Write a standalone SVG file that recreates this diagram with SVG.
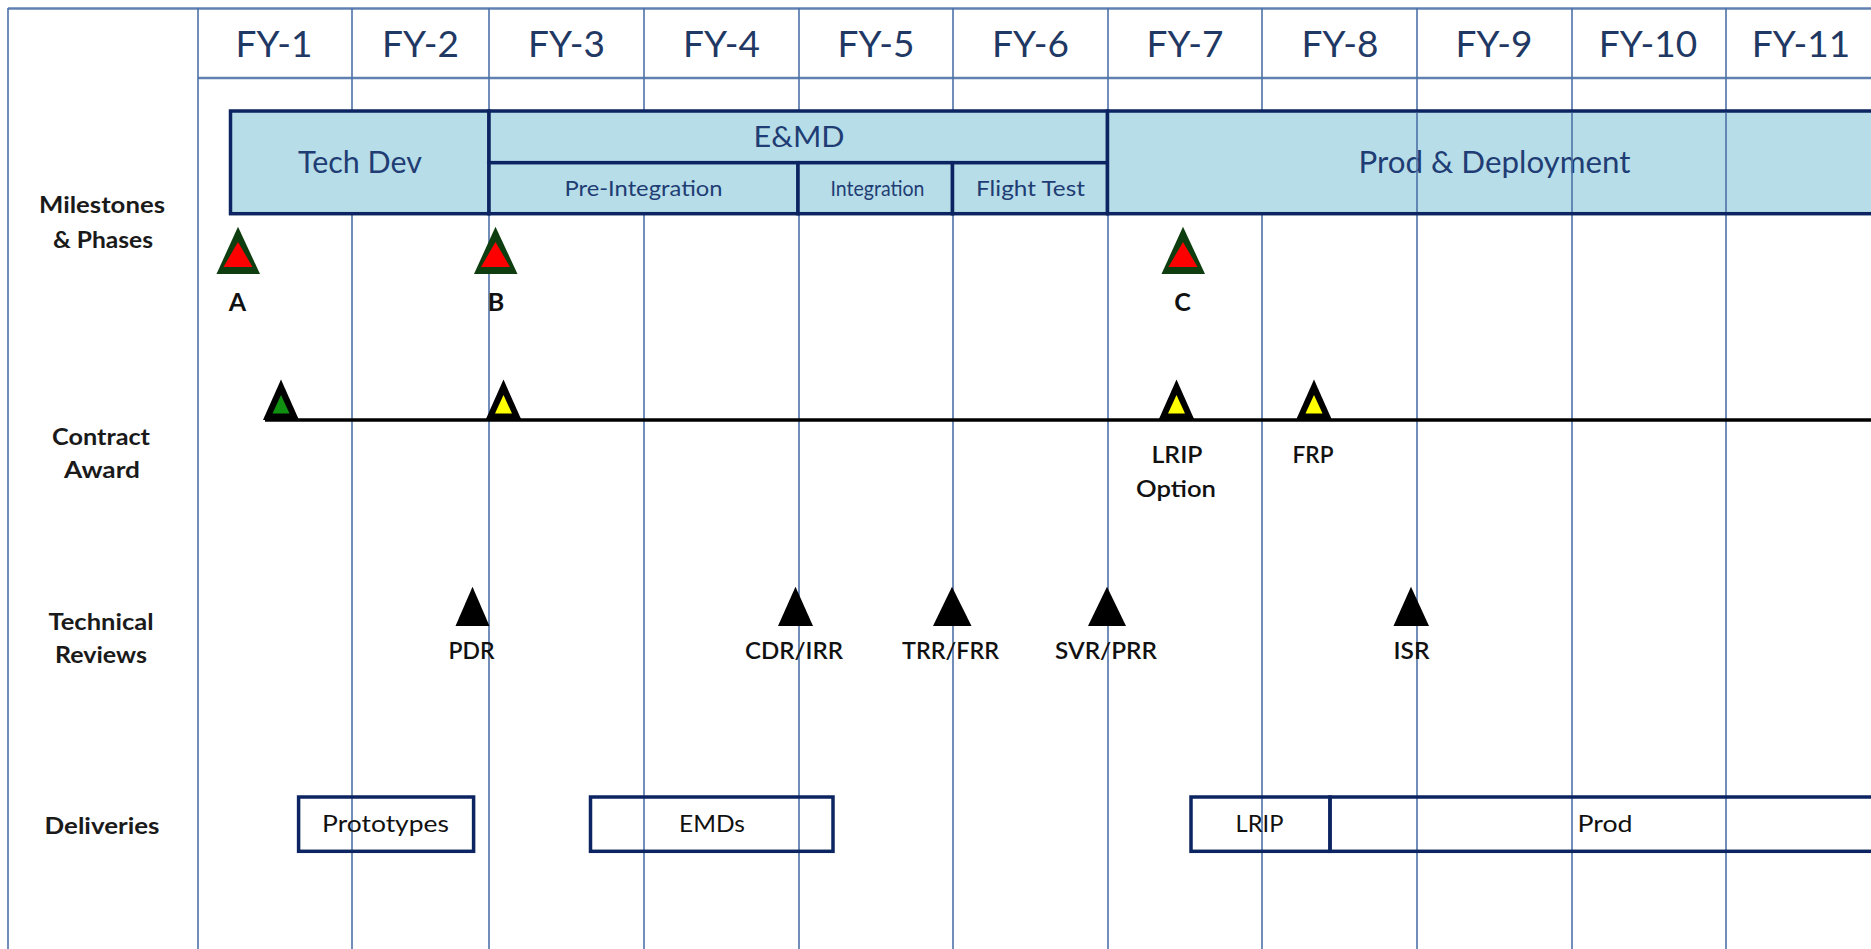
<svg xmlns="http://www.w3.org/2000/svg" width="1871" height="949" viewBox="0 0 1871 949">
<style>
  .grid { stroke: #4d72a8; stroke-width: 1.6; fill: none; }
  .hgrid { stroke: #5f80b0; stroke-width: 2.4; fill: none; }
  .fy { font-family: Lato, "Liberation Sans", sans-serif; font-size: 37px; fill: #1f3864; text-anchor: middle; }
  .phase { fill: #b7dde8; stroke: #0c2461; stroke-width: 3.5; }
  .ptxt { font-family: Lato, "Liberation Sans", sans-serif; fill: #1f3d74; text-anchor: middle; }
  .row { font-family: Lato, "Liberation Sans", sans-serif; font-size: 23px; font-weight: bold; fill: #1a1a1a; text-anchor: middle; }
  .lbl { font-family: Lato, "Liberation Sans", sans-serif; font-size: 22px; font-weight: 600; fill: #111; text-anchor: middle; }
  .lblb { font-family: Lato, "Liberation Sans", sans-serif; font-size: 25px; font-weight: bold; fill: #111; text-anchor: middle; }
  .mout { fill: #0e3e10; }
  .min { fill: #ff0000; }
  .cout { fill: #000; }
  .review { fill: #000; }
  .dbox { fill: none; stroke: #0c2461; stroke-width: 3.5; }
  .dtxt { font-family: Lato, "Liberation Sans", sans-serif; font-size: 23px; fill: #111; text-anchor: middle; }
</style>
<rect width="1871" height="949" fill="#ffffff"/>

<g id="grid">
  <line class="hgrid" x1="8" y1="8.5" x2="1871" y2="8.5"/>
  <line class="hgrid" x1="198" y1="78" x2="1871" y2="78"/>
  <line class="grid" x1="8" y1="8" x2="8" y2="949"/>
  <line class="grid" x1="198" y1="8" x2="198" y2="949"/>
  <line class="grid" x1="352" y1="8" x2="352" y2="949"/>
  <line class="grid" x1="489" y1="8" x2="489" y2="949"/>
  <line class="grid" x1="644" y1="8" x2="644" y2="949"/>
  <line class="grid" x1="799" y1="8" x2="799" y2="949"/>
  <line class="grid" x1="953" y1="8" x2="953" y2="949"/>
  <line class="grid" x1="1108" y1="8" x2="1108" y2="949"/>
  <line class="grid" x1="1262" y1="8" x2="1262" y2="949"/>
  <line class="grid" x1="1417" y1="8" x2="1417" y2="949"/>
  <line class="grid" x1="1572" y1="8" x2="1572" y2="949"/>
  <line class="grid" x1="1726" y1="8" x2="1726" y2="949"/>
</g>

<g id="header">
  <text class="fy" x="274" y="57">FY-1</text>
  <text class="fy" x="420.5" y="57">FY-2</text>
  <text class="fy" x="566.5" y="57">FY-3</text>
  <text class="fy" x="721.5" y="57">FY-4</text>
  <text class="fy" x="876" y="57">FY-5</text>
  <text class="fy" x="1030.5" y="57">FY-6</text>
  <text class="fy" x="1185" y="57">FY-7</text>
  <text class="fy" x="1340" y="57">FY-8</text>
  <text class="fy" x="1494" y="57">FY-9</text>
  <text class="fy" x="1648" y="57">FY-10</text>
  <text class="fy" x="1801" y="57">FY-11</text>
</g>

<g id="row-labels">
  <text class="row" x="102" y="213" textLength="126" lengthAdjust="spacingAndGlyphs">Milestones</text>
  <text class="row" x="103" y="248" textLength="100" lengthAdjust="spacingAndGlyphs">&amp; Phases</text>
  <text class="row" x="101" y="445" textLength="98" lengthAdjust="spacingAndGlyphs">Contract</text>
  <text class="row" x="102" y="478" textLength="76" lengthAdjust="spacingAndGlyphs">Award</text>
  <text class="row" x="101" y="629.5" textLength="105" lengthAdjust="spacingAndGlyphs">Technical</text>
  <text class="row" x="101" y="663" textLength="92" lengthAdjust="spacingAndGlyphs">Reviews</text>
  <text class="row" x="102" y="834" textLength="115" lengthAdjust="spacingAndGlyphs">Deliveries</text>
</g>

<g id="phase-tech-dev">
  <rect class="phase" x="230.5" y="111" width="258.5" height="102.7"/>
  <text class="ptxt" x="360" y="173" font-size="30" textLength="124" lengthAdjust="spacingAndGlyphs">Tech Dev</text>
</g>
<g id="phase-emd">
  <rect class="phase" x="489" y="111" width="618.5" height="51.7"/>
  <text class="ptxt" x="799" y="147" font-size="29" textLength="91" lengthAdjust="spacingAndGlyphs">E&amp;MD</text>
</g>
<g id="phase-pre-integration">
  <rect class="phase" x="489" y="162.7" width="309" height="51"/>
  <text class="ptxt" x="643.5" y="196" font-size="22" textLength="158" lengthAdjust="spacingAndGlyphs">Pre-Integration</text>
</g>
<g id="phase-integration">
  <rect class="phase" x="798" y="162.7" width="154.5" height="51"/>
  <text class="ptxt" x="877.5" y="196" font-size="22" textLength="94" lengthAdjust="spacingAndGlyphs">Integration</text>
</g>
<g id="phase-flight-test">
  <rect class="phase" x="952.5" y="162.7" width="155" height="51"/>
  <text class="ptxt" x="1030.5" y="196" font-size="22" textLength="109" lengthAdjust="spacingAndGlyphs">Flight Test</text>
</g>
<g id="phase-prod">
  <rect class="phase" x="1107.5" y="111" width="780" height="102.7"/>
  <text class="ptxt" x="1494.5" y="173" font-size="30" textLength="272" lengthAdjust="spacingAndGlyphs">Prod &amp; Deployment</text>
</g>
<g id="grid-overlay">
  <line class="grid" x1="1417" y1="113" x2="1417" y2="212"/>
  <line class="grid" x1="1572" y1="113" x2="1572" y2="212"/>
  <line class="grid" x1="1726" y1="113" x2="1726" y2="212"/>
</g>

<g id="milestone-A">
  <polygon class="mout" points="238,226.7 260,274 216.5,274"/>
  <polygon class="min" points="238,242 252.5,267 223.5,267"/>
  <text class="lblb" x="237.5" y="311">A</text>
</g>
<g id="milestone-B">
  <polygon class="mout" points="495.5,226.7 517.5,274 474,274"/>
  <polygon class="min" points="495.5,242 510,267 481,267"/>
  <text class="lblb" x="496" y="311">B</text>
</g>
<g id="milestone-C">
  <polygon class="mout" points="1183,226.7 1205,274 1161.5,274"/>
  <polygon class="min" points="1183,242 1197.5,267 1168.5,267"/>
  <text class="lblb" x="1182.5" y="311">C</text>
</g>

<g id="connectors">
  <line x1="265" y1="420" x2="1871" y2="420" stroke="#000" stroke-width="3.6"/>
</g>

<g id="award-1">
  <polygon class="cout" points="281,379.5 299,420 263,420"/>
  <polygon fill="#109010" points="281,395 289.5,413.5 272.5,413.5"/>
</g>
<g id="award-2">
  <polygon class="cout" points="503.5,379.5 521.5,420 485.5,420"/>
  <polygon fill="#ffff00" points="503.5,395 512,413.5 495,413.5"/>
</g>
<g id="award-lrip">
  <polygon class="cout" points="1176.5,379.5 1194.5,420 1158.5,420"/>
  <polygon fill="#ffff00" points="1176.5,395 1185,413.5 1168,413.5"/>
  <text class="lbl" x="1177" y="463" textLength="51" lengthAdjust="spacingAndGlyphs">LRIP</text>
  <text class="lbl" x="1176" y="497" textLength="80" lengthAdjust="spacingAndGlyphs">Option</text>
</g>
<g id="award-frp">
  <polygon class="cout" points="1314,379.5 1332,420 1296,420"/>
  <polygon fill="#ffff00" points="1314,395 1322.5,413.5 1305.5,413.5"/>
  <text class="lbl" x="1313" y="463" textLength="41" lengthAdjust="spacingAndGlyphs">FRP</text>
</g>

<g id="review-pdr">
  <polygon class="review" points="472.5,586.7 489.5,626 455.5,626"/>
  <text class="lbl" x="471.5" y="659" textLength="46" lengthAdjust="spacingAndGlyphs">PDR</text>
</g>
<g id="review-cdr">
  <polygon class="review" points="795.5,586.7 813,626 778,626"/>
  <text class="lbl" x="794" y="658.5" textLength="98" lengthAdjust="spacingAndGlyphs">CDR/IRR</text>
</g>
<g id="review-trr">
  <polygon class="review" points="952,586.7 971.5,626 933,626"/>
  <text class="lbl" x="950.5" y="658.5" textLength="97" lengthAdjust="spacingAndGlyphs">TRR/FRR</text>
</g>
<g id="review-svr">
  <polygon class="review" points="1107,586.7 1126,626 1088,626"/>
  <text class="lbl" x="1106" y="658.5" textLength="102" lengthAdjust="spacingAndGlyphs">SVR/PRR</text>
</g>
<g id="review-isr">
  <polygon class="review" points="1411,586.7 1429,626 1393.5,626"/>
  <text class="lbl" x="1411.5" y="658.5" textLength="36" lengthAdjust="spacingAndGlyphs">ISR</text>
</g>

<g id="delivery-prototypes">
  <rect class="dbox" x="298.6" y="797" width="175" height="54.3"/>
  <text class="dtxt" x="385.5" y="832" textLength="127" lengthAdjust="spacingAndGlyphs">Prototypes</text>
</g>
<g id="delivery-emds">
  <rect class="dbox" x="590.5" y="797" width="242.5" height="54.3"/>
  <text class="dtxt" x="712" y="832" textLength="66" lengthAdjust="spacingAndGlyphs">EMDs</text>
</g>
<g id="delivery-lrip">
  <rect class="dbox" x="1191" y="797" width="139" height="54.3"/>
  <text class="dtxt" x="1259.5" y="832" textLength="48" lengthAdjust="spacingAndGlyphs">LRIP</text>
</g>
<g id="delivery-prod">
  <rect class="dbox" x="1330" y="797" width="560" height="54.3"/>
  <text class="dtxt" x="1605" y="832" textLength="55" lengthAdjust="spacingAndGlyphs">Prod</text>
</g>
</svg>
